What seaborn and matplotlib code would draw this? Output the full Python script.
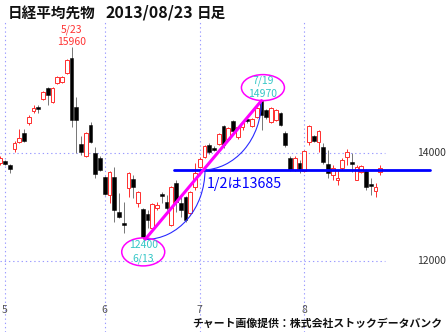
import numpy as np
import pandas as pd
import matplotlib
matplotlib.use("Agg")
import matplotlib.pyplot as plt
from matplotlib.patches import Ellipse, Arc, Rectangle
import seaborn as sns

sns.set_style("white")
plt.rcParams['font.family'] = ['Noto Sans CJK JP', 'DejaVu Sans']

# ---- data (daily OHLC, 2013/04/30 .. 2013/08/23, trading days) ----
opens = [13815, 13852, 13778, 14074, 14204, 14370, 14556, 14778, 14852, 15000,
         15204, 14944, 15296, 15315, 15481, 15759, 14852, 14167, 13944, 14519,
         14000, 13907, 13556, 13222, 13556, 12907, 12704, 13352, 13519, 13074,
         12963, 12870, 12611, 12981, 13241, 13093, 12667, 13444, 13074, 13185,
         12889, 13370, 13741, 13926, 14148, 14093, 14167, 14500, 14259, 14593,
         14296, 14481, 14630, 14500, 14667, 14970, 14796, 14574, 14611, 14741,
         14370, 13907, 13685, 13815, 13667, 14204, 14315, 14204, 14111, 13796,
         13593, 13500, 13722, 13926, 13833, 13500, 13648, 13667, 13426, 13296,
         13648]
highs = [13945, 13870, 13796, 14222, 14444, 14444, 14704, 14889, 14889, 15148,
         15222, 15222, 15426, 15426, 15741, 15960, 15037, 14315, 14389, 14574,
         14111, 13944, 13574, 13667, 13741, 13259, 13093, 13648, 13593, 13296,
         12981, 12944, 13074, 13093, 13278, 13222, 13389, 13500, 13222, 13204,
         13296, 13815, 13926, 14148, 14185, 14130, 14370, 14519, 14481, 14611,
         14500, 14593, 14648, 14648, 14852, 14970, 14815, 14852, 14815, 14759,
         14407, 13944, 13944, 13870, 14056, 14519, 14333, 14426, 14185, 14056,
         13778, 13685, 13907, 14074, 14000, 13778, 13778, 13704, 13537, 13444,
         13778]
lows = [13778, 13778, 13630, 14019, 14185, 14204, 14519, 14741, 14741, 14981,
        14889, 14926, 15278, 15296, 15463, 14481, 14000, 13963, 13926, 14185,
        13537, 13667, 13222, 13074, 12722, 12796, 12519, 13185, 13167, 13000,
        12400, 12611, 12593, 12944, 13074, 12944, 12648, 12907, 12815, 12722,
        12870, 13315, 13722, 13907, 13981, 14037, 14148, 14093, 14241, 14370,
        14259, 14426, 14556, 14481, 14648, 14426, 14630, 14556, 14593, 14500,
        14111, 13667, 13667, 13630, 13648, 14148, 14204, 14019, 13796, 13537,
        13500, 13407, 13685, 13778, 13648, 13500, 13630, 13315, 13222, 13185,
        13593]
closes = [13907, 13796, 13704, 14185, 14278, 14222, 14667, 14833, 14815, 15130,
          15074, 15204, 15407, 15415, 15722, 14611, 14611, 14019, 14370, 14204,
          13611, 13685, 13241, 13648, 12944, 12815, 12667, 13630, 13370, 13278,
          12444, 12759, 13056, 13037, 13204, 12981, 13370, 13093, 12944, 12759,
          13278, 13630, 13889, 14130, 14019, 14056, 14352, 14148, 14463, 14407,
          14481, 14556, 14593, 14630, 14833, 14704, 14667, 14833, 14796, 14519,
          14148, 13685, 13907, 13685, 14037, 14500, 14222, 14407, 13833, 13630,
          13722, 13537, 13870, 14019, 13796, 13741, 13759, 13370, 13389, 13370,
          13722]
month_labels = ["5", "6", "7", "8"]
month_starts = [1, 22, 42, 64]          # index of first trading day of each month
price_ticks = [14000, 12000]
ann_dates = {"top1": "5/23", "top2": "7/19", "low": "6/13"}
title_parts = ["日経平均先物", "2013/08/23", "日足"]

df = pd.DataFrame({"o": opens, "h": highs, "l": lows, "c": closes})
df["x"] = np.arange(len(df))
df["up"] = df["c"] >= df["o"]

# ---- layout helpers (pixel scale of the reference) ----
PXX = 1 / 4.75           # index units per pixel
PXY = 2000 / 108         # price units per pixel
fig = plt.figure(figsize=(4.48, 3.32), dpi=100)
ax = fig.add_axes([0, 0, 1, 1])
ax.set_xlim(1 - 5 * PXX, 1 + 443 * PXX)
ax.set_ylim(14000 - 179 * PXY, 14000 + 153 * PXY)
ax.axis("off")

RED = "#ff3333"
GRID = "#9a9aff"
LW1 = 0.72

# grid
top_y = 14000 + 131 * PXY
for m in month_starts:
    ax.plot([m, m], [ax.get_ylim()[0], top_y], color=GRID, lw=0.8,
            ls=(0, (1.2, 2.6)), zorder=1)
for p in price_ticks:
    ax.plot([ax.get_xlim()[0], 1 + 380 * PXX], [p, p], color=GRID, lw=0.8,
            ls=(0, (1.2, 2.6)), zorder=1)

# candles
w = 0.76
for r in df.itertuples():
    col = RED if r.up else "#7a7a7a"
    ax.vlines(r.x, r.l, r.h, color=col, lw=LW1, zorder=2)
    lo, hi = min(r.o, r.c), max(r.o, r.c)
    hgt = max(hi - lo, 1.2 * PXY)
    if r.up:
        ax.add_patch(Rectangle((r.x - w / 2, lo), w, hgt, facecolor="white",
                               edgecolor=RED, lw=LW1, zorder=3))
    else:
        ax.add_patch(Rectangle((r.x - w / 2, lo), w, hgt, facecolor="black",
                               edgecolor="black", lw=LW1 * 0.5, zorder=3))

# analysis lines
i_low = int(df["l"].idxmin())
i_high = int(df.loc[40:, "h"].idxmax())
p_low = df["l"].min()
p_high = df.loc[40:, "h"].max()
mid = (p_low + p_high) / 2
x_mid = (i_low + i_high) / 2

sns.lineplot(x=[i_low + 0.5, i_high], y=[p_low, p_high], ax=ax, color="#ff00ff",
             lw=2.2, zorder=6, legend=False)
sns.lineplot(x=[x_mid - 6, len(df) + 9.5], y=[mid, mid], ax=ax, color="#0000ff",
             lw=2.0, zorder=5, legend=False)
ax.add_patch(Arc((i_low + 0.6, mid), 2 * (x_mid - i_low), 2 * (mid - p_low),
                 theta1=270, theta2=360, color="#2a2aff", lw=0.8, zorder=5))
ax.add_patch(Arc((x_mid, p_high), 2 * (i_high - x_mid), 2 * (p_high - mid),
                 theta1=270, theta2=360, color="#2a2aff", lw=0.8, zorder=5))
ax.text(x_mid + 1.0, mid - 14 * PXY, f"1/2は{mid:.0f}", color="#0000ff",
        fontsize=10.3, ha="left", va="center", zorder=7)

# annotations
CYAN = "#33c6c6"
i_top1 = int(df.loc[:30, "h"].idxmax())
p_top1 = df.loc[:30, "h"].max()
ax.text(i_top1 + 0.1, p_top1 + 17 * PXY, ann_dates["top1"], color=RED,
        fontsize=7.5, ha="center", va="center")
ax.text(i_top1 + 0.1, p_top1 + 5.5 * PXY, f"{p_top1}", color=RED,
        fontsize=7.5, ha="center", va="center")

ax.add_patch(Ellipse((i_high + 0.3, p_high + 13 * PXY), 43 * PXX, 26 * PXY,
                     fill=False, edgecolor="#ff00ff", lw=1.1, zorder=7))
ax.text(i_high + 0.3, p_high + 19.5 * PXY, ann_dates["top2"], color=CYAN,
        fontsize=7.5, ha="center", va="center", zorder=8)
ax.text(i_high + 0.3, p_high + 6.8 * PXY, f"{p_high}", color=CYAN,
        fontsize=7.5, ha="center", va="center", zorder=8)

ax.add_patch(Ellipse((i_low + 0.1, p_low - 12.5 * PXY), 43 * PXX, 28 * PXY,
                     fill=False, edgecolor="#ff00ff", lw=1.1, zorder=7))
ax.text(i_low + 0.1, p_low - 6 * PXY, f"{p_low}", color=CYAN,
        fontsize=7.5, ha="center", va="center", zorder=8)
ax.text(i_low + 0.1, p_low - 19 * PXY, ann_dates["low"], color=CYAN,
        fontsize=7.5, ha="center", va="center", zorder=8)

# axis labels
for p in price_ticks:
    ax.text(1 + 441 * PXX, p, f"{p}", color="#333333", fontsize=7.5,
            ha="right", va="center")
for m, lab in zip(month_starts, month_labels):
    ax.text(m, 14000 - 157 * PXY, lab, color="#555555", fontsize=7.5,
            ha="center", va="center")

# title and credit
ty = 1 - 13 / 332
fig.text(8 / 448, ty, title_parts[0], fontsize=10.5, fontweight="bold",
         ha="left", va="center", color="#111111")
fig.text(105 / 448, ty, title_parts[1], fontsize=11.5, fontweight="bold",
         ha="left", va="center", color="#111111")
fig.text(197 / 448, ty, title_parts[2], fontsize=10.5, fontweight="bold",
         ha="left", va="center", color="#111111")
fig.text(442 / 448, 1 - 323.5 / 332, "チャート画像提供：株式会社ストックデータバンク",
         fontsize=7.8, fontweight="bold", ha="right", va="center", color="#111111")

fig.savefig("out.png", dpi=100)
